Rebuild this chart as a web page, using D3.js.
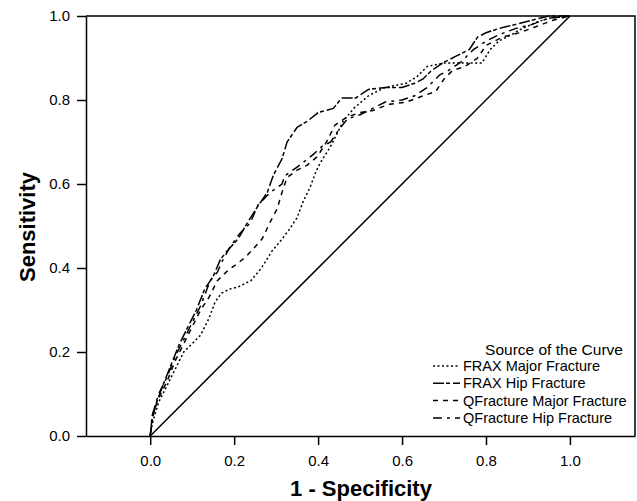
<!DOCTYPE html>
<html>
<head>
<meta charset="utf-8">
<script src="https://cdn.jsdelivr.net/npm/d3@7"></script>
<style>
	body { margin: 0; background: #fff; }
	svg { display: block; font-family: Arial, 'Liberation Sans', sans-serif; }
	.axis path, .axis line { stroke: #000; stroke-width: 1.5; }
	.axis text { font-size: 15px; fill: #000; }
	.curve { fill: none; stroke: #000; stroke-width: 1.5; }
</style>
</head>
<body>
<div class="chart"></div>
<script>
const WIDTH = 637;
const HEIGHT = 501;

const X_TICKS = [0, 0.2, 0.4, 0.6, 0.8, 1.0];
const Y_TICKS = [0, 0.2, 0.4, 0.6, 0.8, 1.0];

const LEGEND_TITLE = 'Source of the Curve';
const SERIES_NAMES = [
	'FRAX Major Fracture',
	'FRAX Hip Fracture',
	'QFracture Major Fracture',
	'QFracture Hip Fracture'
];

// [1 - specificity, sensitivity]
const fraxMajor = [
	[0, 0], [0.005, 0.03], [0.02, 0.08], [0.04, 0.12], [0.06, 0.16], [0.08, 0.2],
	[0.1, 0.22], [0.12, 0.24], [0.14, 0.28], [0.155, 0.32], [0.17, 0.34], [0.19, 0.35],
	[0.21, 0.355], [0.24, 0.37], [0.265, 0.4], [0.29, 0.44], [0.315, 0.47], [0.33, 0.49],
	[0.35, 0.52], [0.365, 0.56], [0.38, 0.59], [0.395, 0.63], [0.405, 0.65], [0.43, 0.69],
	[0.46, 0.75], [0.485, 0.78], [0.52, 0.81], [0.56, 0.83], [0.61, 0.84], [0.635, 0.855],
	[0.66, 0.88], [0.7, 0.888], [0.75, 0.888], [0.79, 0.888], [0.81, 0.92], [0.83, 0.94],
	[0.86, 0.955], [0.88, 0.967], [0.92, 0.985], [0.95, 0.995], [1, 1]
];

const fraxHip = [
	[0, 0], [0.005, 0.04], [0.015, 0.08], [0.03, 0.12], [0.05, 0.17], [0.07, 0.22],
	[0.09, 0.26], [0.11, 0.3], [0.13, 0.35], [0.15, 0.38], [0.167, 0.42], [0.183, 0.44],
	[0.21, 0.47], [0.233, 0.51], [0.255, 0.545], [0.279, 0.58], [0.293, 0.62], [0.314, 0.66],
	[0.326, 0.7], [0.35, 0.735], [0.375, 0.75], [0.4, 0.77], [0.436, 0.78], [0.457, 0.805],
	[0.49, 0.805], [0.52, 0.825], [0.56, 0.83], [0.6, 0.83], [0.63, 0.84], [0.65, 0.85],
	[0.67, 0.87], [0.7, 0.89], [0.73, 0.905], [0.76, 0.92], [0.78, 0.95], [0.8, 0.96],
	[0.83, 0.97], [0.87, 0.98], [0.91, 0.99], [0.95, 1], [1, 1]
];

const qfracMajor = [
	[0, 0], [0.005, 0.05], [0.02, 0.09], [0.04, 0.13], [0.06, 0.18], [0.08, 0.22],
	[0.1, 0.26], [0.12, 0.3], [0.14, 0.33], [0.16, 0.37], [0.186, 0.395], [0.207, 0.41],
	[0.226, 0.425], [0.245, 0.445], [0.267, 0.47], [0.286, 0.51], [0.302, 0.54], [0.314, 0.58],
	[0.326, 0.615], [0.35, 0.633], [0.374, 0.645], [0.398, 0.665], [0.42, 0.7], [0.44, 0.74],
	[0.47, 0.76], [0.5, 0.77], [0.53, 0.775], [0.57, 0.79], [0.61, 0.795], [0.65, 0.81],
	[0.68, 0.82], [0.7, 0.85], [0.72, 0.87], [0.75, 0.88], [0.78, 0.9], [0.8, 0.93],
	[0.84, 0.95], [0.88, 0.96], [0.92, 0.975], [0.96, 0.99], [1, 1]
];

const qfracHip = [
	[0, 0], [0.005, 0.05], [0.02, 0.1], [0.04, 0.14], [0.06, 0.19], [0.08, 0.23],
	[0.1, 0.27], [0.12, 0.31], [0.143, 0.37], [0.16, 0.39], [0.171, 0.415], [0.19, 0.45],
	[0.214, 0.483], [0.238, 0.507], [0.257, 0.55], [0.286, 0.58], [0.314, 0.6], [0.321, 0.62],
	[0.35, 0.64], [0.388, 0.67], [0.41, 0.69], [0.43, 0.7], [0.45, 0.73], [0.47, 0.755],
	[0.5, 0.765], [0.53, 0.78], [0.56, 0.795], [0.6, 0.8], [0.63, 0.81], [0.66, 0.83],
	[0.69, 0.86], [0.71, 0.87], [0.74, 0.89], [0.77, 0.92], [0.8, 0.94], [0.83, 0.955],
	[0.87, 0.97], [0.91, 0.98], [0.95, 0.995], [1, 1]
];

const reference = [[0, 0], [1, 1]];

const DASHES = ['2,2.5', '11,2,4,3', '5,5', '9,5,3,5'];

const plot = { left: 86, right: 635, top: 16, bottom: 436 };

const x = d3.scaleLinear().domain([-0.153, 1.155]).range([plot.left, plot.right]);
const y = d3.scaleLinear().domain([0, 1]).range([plot.bottom, plot.top]);

const svg = d3.select('.chart')
	.append('svg')
	.attr('width', WIDTH)
	.attr('height', HEIGHT);

// frame (top and right)
svg.append('path')
	.attr('d', `M${plot.left},${plot.top}H${plot.right}V${plot.bottom}`)
	.attr('fill', 'none')
	.attr('stroke', '#000')
	.attr('stroke-width', 1.5);

const axisX = d3.axisBottom(x)
	.tickValues(X_TICKS)
	.tickFormat(d3.format('.1f'))
	.tickSizeInner(9)
	.tickSizeOuter(0)
	.tickPadding(10);

svg.append('g')
	.attr('class', 'axis axis--x')
	.attr('transform', `translate(0, ${plot.bottom})`)
	.call(axisX);

const axisY = d3.axisLeft(y)
	.tickValues(Y_TICKS)
	.tickFormat(d3.format('.1f'))
	.tickSizeInner(9)
	.tickSizeOuter(0)
	.tickPadding(7);

svg.append('g')
	.attr('class', 'axis axis--y')
	.attr('transform', `translate(${plot.left}, 0)`)
	.call(axisY);

svg.append('text')
	.attr('x', 361)
	.attr('y', 495.5)
	.attr('text-anchor', 'middle')
	.style('font-size', '22px')
	.style('font-weight', 'bold')
	.text('1 - Specificity');

svg.append('text')
	.attr('transform', 'rotate(-90)')
	.attr('x', -227)
	.attr('y', 35)
	.attr('text-anchor', 'middle')
	.style('font-size', '22px')
	.style('font-weight', 'bold')
	.text('Sensitivity');

const line = d3.line()
	.x(d => x(d[0]))
	.y(d => y(d[1]));

svg.append('path')
	.datum(reference)
	.attr('class', 'curve')
	.attr('d', line);

const series = [fraxMajor, fraxHip, qfracMajor, qfracHip];

svg.selectAll('.roc')
	.data(series)
	.enter()
	.append('path')
	.attr('class', 'curve roc')
	.attr('stroke-dasharray', (d, i) => DASHES[i])
	.attr('d', line);

// legend
const legend = svg.append('g').attr('class', 'legend');

legend.append('text')
	.attr('x', 554)
	.attr('y', 350)
	.attr('dy', '0.35em')
	.attr('text-anchor', 'middle')
	.style('font-size', '15.5px')
	.text(LEGEND_TITLE);

const items = legend.selectAll('.legend__item')
	.data(SERIES_NAMES)
	.enter()
	.append('g')
	.attr('class', 'legend__item')
	.attr('transform', (d, i) => `translate(0, ${366 + i * 17.3})`);

items.append('line')
	.attr('x1', 433)
	.attr('x2', 460)
	.attr('stroke', '#000')
	.attr('stroke-width', 1.5)
	.attr('stroke-dasharray', (d, i) => DASHES[i]);

items.append('text')
	.attr('x', 463)
	.attr('dy', '0.35em')
	.style('font-size', '14.5px')
	.text(d => d);
</script>
</body>
</html>
